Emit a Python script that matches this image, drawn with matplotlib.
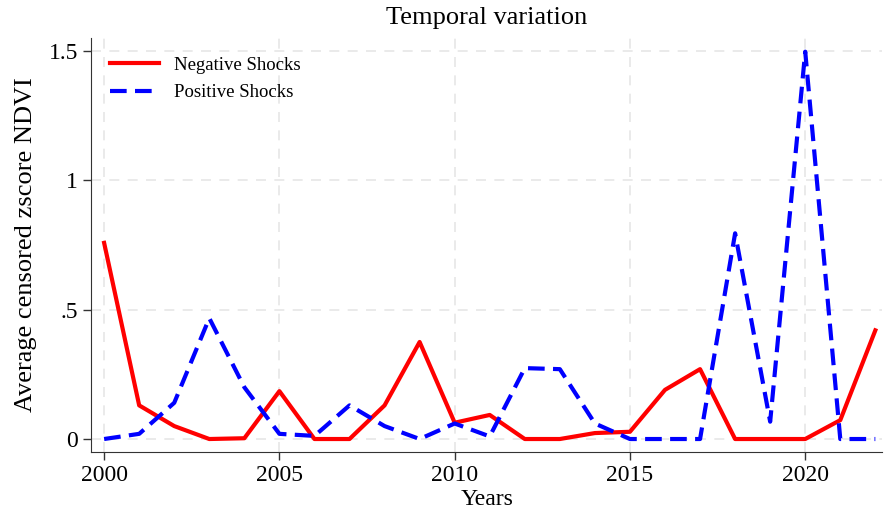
import matplotlib.pyplot as plt

years = list(range(2000, 2023))
negative = [0.758, 0.13, 0.05, 0.0, 0.003, 0.185, 0.0, 0.0, 0.13, 0.375, 0.063,
            0.093, 0.0, 0.0, 0.023, 0.028, 0.19, 0.27, 0.0, 0.0, 0.0, 0.073, 0.42]
positive = [0.0, 0.02, 0.14, 0.467, 0.2, 0.02, 0.012, 0.13, 0.05, 0.0, 0.06,
            0.01, 0.274, 0.27, 0.06, 0.0, 0.0, 0.0, 0.795, 0.067, 1.497, 0.0, 0.0]
yticks = [0, 0.5, 1, 1.5]
ytick_labels = ["0", ".5", "1", "1.5"]

plt.rcParams['font.family'] = ['Liberation Serif', 'DejaVu Serif']

fig = plt.figure(figsize=(8.85, 5.13), dpi=100)
ax = fig.add_axes([0.103, 0.119, 0.894, 0.807])

ax.plot(years, negative, color='red', linewidth=3, label='Negative Shocks')
ax.plot(years, positive, color='blue', linewidth=3, linestyle=(0, (4, 2)),
        label='Positive Shocks')

ax.set_xlim(1999.63, 2022.2)
ax.set_ylim(-0.05, 1.55)
ax.set_xticks(range(2000, 2021, 5))
ax.set_yticks(yticks)
ax.set_yticklabels(ytick_labels)
ax.tick_params(labelsize=17, length=6, width=1, color='#333333')
ax.grid(True, color='#e6e6e6', linestyle=(0, (6, 5)), linewidth=1.2)
ax.set_axisbelow(True)

for s in ['top', 'right']:
    ax.spines[s].set_visible(False)
for s in ['left', 'bottom']:
    ax.spines[s].set_color('#333333')

ax.set_title('Temporal variation', fontsize=19, pad=10)
ax.set_xlabel('Years', fontsize=17, labelpad=2)
ax.set_ylabel('Average censored zscore NDVI', fontsize=19, labelpad=8)

ax.legend(loc='upper left', frameon=False, fontsize=13.5, handlelength=2.6,
          handletextpad=0.8, borderaxespad=0.6, labelspacing=0.55)

fig.savefig('out.png', dpi=100)
